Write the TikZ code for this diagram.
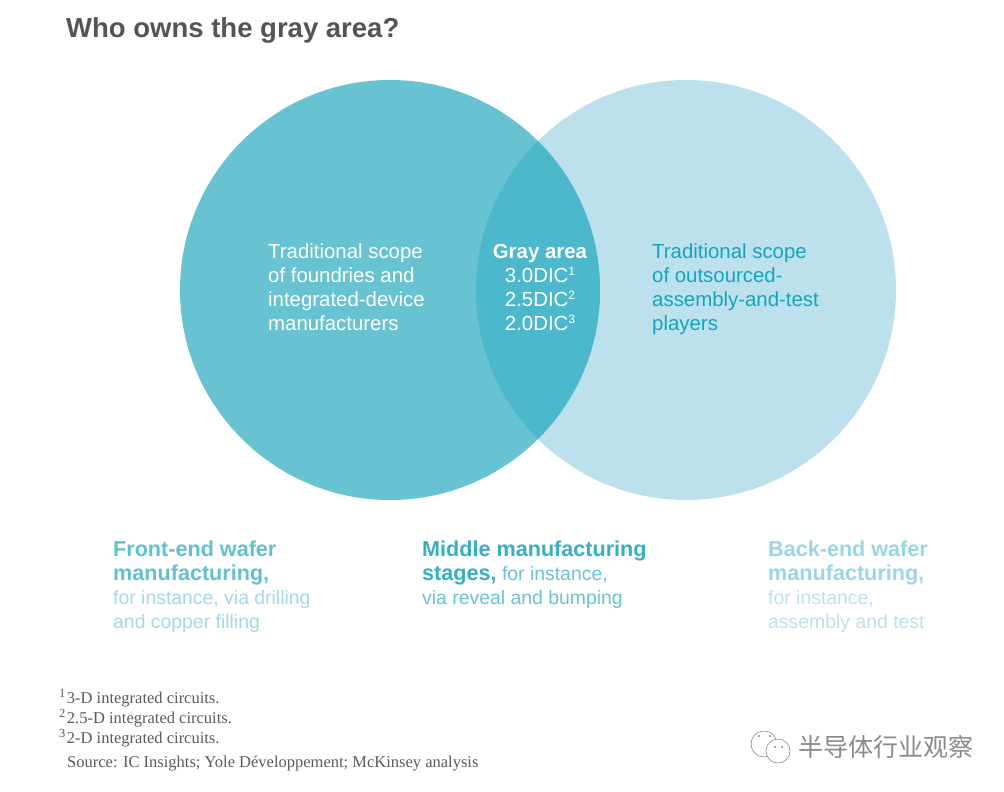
\documentclass[tikz,border=0pt]{standalone}
\usepackage{fontspec}
\setmainfont{Liberation Sans}
\newfontfamily\serifnote{Liberation Serif}
\newfontfamily\cjkmark{Noto Sans CJK SC}
\usetikzlibrary{positioning}

\definecolor{scopeleft}{HTML}{67C3D1}
\definecolor{scoperight}{HTML}{BCE1EC}
\definecolor{scopemid}{HTML}{4CB8CB}
\definecolor{inkright}{HTML}{12A5BE}
\definecolor{headleft}{HTML}{62C0D0}
\definecolor{headmid}{HTML}{35AFC4}
\definecolor{headright}{HTML}{9BD5E4}
\definecolor{bodyleft}{HTML}{A2D9E5}
\definecolor{inktitle}{HTML}{545454}
\definecolor{inknote}{HTML}{5A5A5A}
\definecolor{inkmark}{HTML}{8A8A8A}

\newcommand{\dicsup}[1]{\raisebox{6.5pt}{\fontsize{12}{12}\selectfont #1}}
\newcommand{\notesup}[1]{\raisebox{5.5pt}{\fontsize{12.5}{12.5}\selectfont #1}\kern1.5pt}
\newcommand{\headtext}[2]{\textcolor{#1}{\fontsize{21.6}{24}\selectfont\bfseries #2}}

\begin{document}
\begin{tikzpicture}[
    x=1pt,
    y=-1pt,
    scopetext/.style={anchor=north west, inner sep=0pt, align=left,
        font=\fontsize{20.4}{24}\selectfont},
    lowertext/.style={anchor=north west, inner sep=0pt, align=left,
        font=\fontsize{19.4}{24}\selectfont},
    notetext/.style={anchor=north west, inner sep=0pt, align=left, text=inknote,
        font=\serifnote\fontsize{16.5}{20}\selectfont},
]
    \useasboundingbox (0,0) rectangle (1004,792);

    % circles
    \fill[scoperight] (686,290) circle (210);
    \fill[scopeleft] (390,290) circle (210);
    \begin{scope}
        \clip (390,290) circle (210);
        \fill[scopemid] (686,290) circle (210);
    \end{scope}

    \node[anchor=north west, inner sep=0pt, text=inktitle,
        font=\fontsize{27.5}{32}\selectfont\bfseries] (title) at (66,17) {Who owns the gray area?};

    % inside the circles
    \node[scopetext, text=white] (foundry) at (268,244)
        {Traditional scope\\of foundries and\\integrated-device\\manufacturers};
    \node[scopetext, text=white, anchor=north, align=center] (gray) at (540,244)
        {\textbf{Gray area}\\3.0DIC\dicsup{1}\\2.5DIC\dicsup{2}\\2.0DIC\dicsup{3}};
    \node[scopetext, text=inkright] (osat) at (652,244)
        {Traditional scope\\of outsourced-\\assembly-and-test\\players};

    % below the circles
    \node[lowertext, text=bodyleft] (frontend) at (113,541)
        {\headtext{headleft}{Front-end wafer}\\\headtext{headleft}{manufacturing,}\\for instance, via drilling\\and copper filling};
    \node[lowertext, text=headmid!75!white] (middle) at (422,541)
        {\headtext{headmid}{Middle manufacturing}\\\headtext{headmid}{stages,} for instance,\\via reveal and bumping};
    \node[lowertext, text=scoperight] (backend) at (768,541)
        {\headtext{headright}{Back-end wafer}\\\headtext{headright}{manufacturing,}\\for instance,\\assembly and test};

    % notes
    \node[notetext] (notes) at (59,689.5)
        {\notesup{1}3-D integrated circuits.\\\notesup{2}2.5-D integrated circuits.\\\notesup{3}2-D integrated circuits.};
    \node[notetext, below=9pt of notes.south west, anchor=north west, xshift=8pt] (source)
        {Source: IC Insights; Yole Développement; McKinsey analysis};

    % mark
    \node[draw=inkmark, line width=0.6pt, circle, minimum size=26pt, inner sep=0pt] (bubbleA) at (764,744) {};
    \node[draw=inkmark, line width=0.6pt, fill=white, circle, minimum size=24pt, inner sep=0pt] (bubbleB) at (778,751) {};
    \foreach \eyex/\eyey in {759/736, 770/736, 775/747, 782/747}
        \fill[inkmark] (\eyex,\eyey) circle (1.1);
    \node[anchor=west, inner sep=0pt, text=inkmark, font=\cjkmark\fontsize{25}{28}\selectfont] (markname)
        at (798,747) {半导体行业观察};
\end{tikzpicture}
\end{document}
